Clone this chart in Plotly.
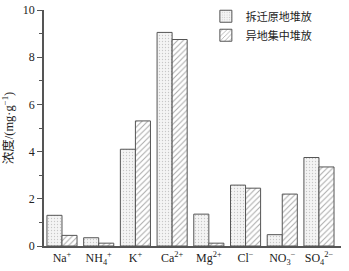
import plotly.graph_objects as go

categories = ["Na<sup>+</sup>", "NH<sub>4</sub><sup>+</sup>", "K<sup>+</sup>", "Ca<sup>2+</sup>",
              "Mg<sup>2+</sup>", "Cl<sup>−</sup>", "NO<sub>3</sub><sup>−</sup>", "SO<sub>4</sub><sup>2−</sup>"]
series_a_name = "拆迁原地堆放"
series_b_name = "异地集中堆放"
series_a = [1.3, 0.35, 4.1, 9.05, 1.35, 2.58, 0.48, 3.75]
series_b = [0.45, 0.12, 5.3, 8.75, 0.12, 2.45, 2.2, 3.35]
y_ticks = [0, 2, 4, 6, 8, 10]

xs = list(range(len(categories)))
line_col = "#555555"

fig = go.Figure()
fig.add_trace(go.Bar(
    x=xs, y=series_a, name=series_a_name,
    marker=dict(color="white", line=dict(color=line_col, width=1),
                pattern=dict(shape=".", fgcolor="#9a9a9a", bgcolor="#f4f4f4", size=3, solidity=0.15)),
))
fig.add_trace(go.Bar(
    x=xs, y=series_b, name=series_b_name,
    marker=dict(color="white", line=dict(color=line_col, width=1),
                pattern=dict(shape="/", fgcolor="#555555", bgcolor="white", size=4, solidity=0.25)),
))

fig.update_layout(
    width=349, height=271,
    margin=dict(l=44, r=8, t=10, b=25, autoexpand=False),
    plot_bgcolor="white", paper_bgcolor="white",
    barmode="group", bargap=0.18, bargroupgap=0,
    font=dict(family="Liberation Serif", size=12, color="#222222"),
    showlegend=True,
    legend=dict(x=0.545, y=1.035, xanchor="left", yanchor="top",
                font=dict(family="Noto Sans CJK SC", size=11, color="#222222"),
                bgcolor="rgba(0,0,0,0)", tracegroupgap=0, itemwidth=30),
    xaxis=dict(range=[-0.49, 7.6], tickmode="array", tickvals=xs, ticktext=categories,
               showline=True, linecolor=line_col, linewidth=1.5, ticks="",
               showgrid=False, zeroline=False, tickfont=dict(size=12), automargin=False),
    yaxis=dict(range=[0, 10], tickmode="array", tickvals=y_ticks,
               showline=True, linecolor=line_col, linewidth=1.5,
               ticks="outside", ticklen=5, tickcolor=line_col, tickwidth=1.2,
               minor=dict(ticks="outside", ticklen=3, dtick=1, tickcolor=line_col, tickwidth=1),
               showgrid=False, zeroline=False, tickfont=dict(size=12), automargin=False,
               title=dict(text="浓度/(mg·g<sup>−1</sup>)", standoff=8,
                          font=dict(family="Liberation Serif, Noto Sans CJK SC", size=12.5))),
)

fig.write_html("out.html", config={"displayModeBar": False},
               post_script="document.body.style.margin='0px';document.body.style.overflow='hidden';")
